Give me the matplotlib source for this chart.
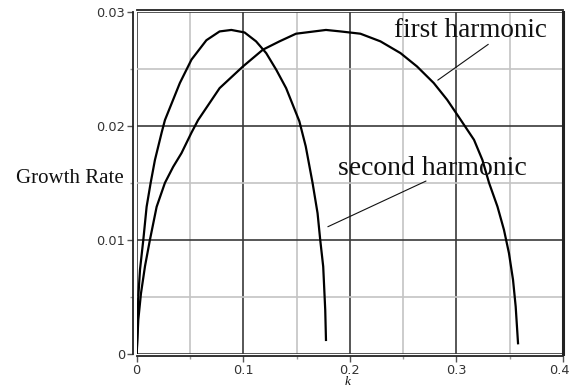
import matplotlib
matplotlib.use("Agg")
import matplotlib.pyplot as plt
from matplotlib.ticker import MultipleLocator

# growth rate curves
k_first = [0, 0.0015, 0.004, 0.0078, 0.0124, 0.0187, 0.0265, 0.0342, 0.042, 0.0514,
           0.0576, 0.0778, 0.0997, 0.1184, 0.134, 0.1495, 0.1776, 0.1912, 0.2099,
           0.2287, 0.2475, 0.263, 0.2787, 0.2913, 0.302, 0.3165, 0.3244, 0.3306,
           0.3385, 0.3446, 0.3493, 0.3531, 0.3556, 0.3578]
g_first = [0, 0.003, 0.0053, 0.0077, 0.0100, 0.0129, 0.0150, 0.0164, 0.0176, 0.0194,
           0.0205, 0.0233, 0.0252, 0.02667, 0.0274, 0.02807, 0.0284, 0.02827, 0.02807,
           0.0274, 0.02637, 0.0252, 0.02375, 0.02228, 0.0208, 0.01877, 0.0170, 0.0150,
           0.01292, 0.01088, 0.00883, 0.0065, 0.00415, 0.00094]

k_second = [0, 0.0008, 0.0015, 0.0031, 0.0062, 0.0093, 0.0131, 0.0171, 0.0234, 0.0265,
            0.0405, 0.0514, 0.0654, 0.0778, 0.0888, 0.1012, 0.112, 0.1215, 0.131,
            0.1402, 0.1526, 0.1586, 0.165, 0.1697, 0.1722, 0.175, 0.1769, 0.1776]
g_second = [0, 0.0025, 0.0050, 0.0074, 0.0100, 0.0129, 0.0150, 0.0170, 0.0194, 0.0205,
            0.02375, 0.0258, 0.0275, 0.02827, 0.0284, 0.02818, 0.0274, 0.02637, 0.0249,
            0.0233, 0.0204, 0.0182, 0.0150, 0.01234, 0.0100, 0.00766, 0.00386, 0.00123]

xticks = [0, 0.1, 0.2, 0.3, 0.4]
xtick_labels = ["0", "0.1", "0.2", "0.3", "0.4"]
yticks = [0, 0.01, 0.02, 0.03]
ytick_labels = ["0", "0.01", "0.02", "0.03"]

fig = plt.figure(figsize=(5.71, 3.87), dpi=100)
ax = fig.add_axes([0.2394, 0.0853, 0.7466, 0.8845])

ax.plot(k_first, g_first, color="black", lw=1.6, zorder=3)
ax.plot(k_second, g_second, color="black", lw=1.6, zorder=3)

ax.set_xlim(0, 0.4)
ax.set_ylim(0, 0.03)
ax.set_xticks(xticks)
# the last label is placed by hand below so it does not run off the edge
ax.set_xticklabels(xtick_labels[:-1] + [""])
ax.set_yticks(yticks)
ax.set_yticklabels(ytick_labels)
ax.xaxis.set_minor_locator(MultipleLocator(0.05))
ax.yaxis.set_minor_locator(MultipleLocator(0.005))

ax.grid(which="major", color="#3a3a3a", lw=1.2, zorder=1)
ax.grid(which="minor", color="#c4c4c4", lw=1.2, zorder=0)
ax.tick_params(which="major", length=4, width=1, color="#555", labelsize=9.3,
               labelcolor="#333", pad=2)
ax.tick_params(which="minor", length=2, width=1, color="#999")

ax.annotate(xtick_labels[-1], xy=(xticks[-1], 0), xytext=(5, -7.5),
            textcoords="offset points", ha="right", va="top",
            fontsize=9.3, color="#333", annotation_clip=False)

for side in ["left", "bottom", "top", "right"]:
    ax.spines[side].set_color("#222")
    ax.spines[side].set_linewidth(1.3)
ax.spines["left"].set_position(("outward", 2.5))
ax.spines["bottom"].set_position(("outward", 1.5))
ax.spines["top"].set_position(("outward", 1.5))
ax.spines["right"].set_linewidth(2.2)

serif = ["Liberation Serif", "DejaVu Serif"]

ax.text(0.241, 0.02778, "first harmonic", family=serif, fontsize=19.5,
        color="#111", va="baseline", ha="left")
ax.annotate("", xy=(0.2804, 0.02386), xytext=(0.332, 0.02728),
            arrowprops=dict(arrowstyle="-", color="#111", lw=0.8))

ax.text(0.189, 0.0157, "second harmonic", family=serif, fontsize=20,
        color="#111", va="baseline", ha="left")
ax.annotate("", xy=(0.177, 0.01105), xytext=(0.2738, 0.01526),
            arrowprops=dict(arrowstyle="-", color="#111", lw=0.8))

fig.text(16 / 571, 1 - 183 / 387, "Growth Rate", family=serif, fontsize=15,
         color="#111", va="baseline", ha="left")
fig.text(348 / 571, 1 - 382 / 387, "k", family=serif, style="italic",
         fontsize=9.5, color="#111", va="center", ha="center")

fig.savefig("out.png", dpi=100)
